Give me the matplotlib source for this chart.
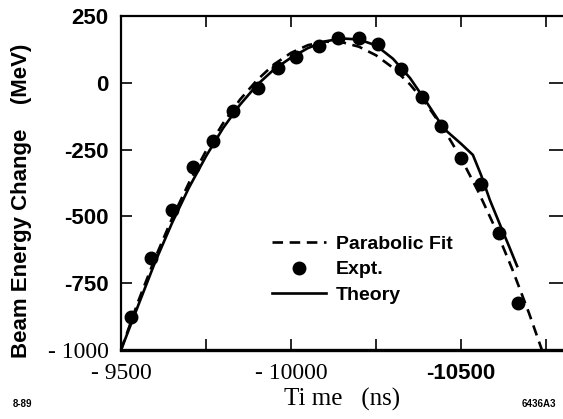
import matplotlib.pyplot as plt

# experimental points (time in ns, energy change in MeV)
expt_t = [-9529, -9588, -9650, -9712, -9771, -9829, -9903, -9962, -10015, -10082,
          -10138, -10200, -10256, -10324, -10385, -10441, -10500, -10559, -10612, -10668]
expt_e = [-876, -656, -476, -315, -218, -106, -19, 55, 97, 138,
          168, 168, 146, 52, -53, -161, -281, -379, -562, -824]

# parabolic fit
fit_t = [-9500, -9550, -9600, -9650, -9700, -9750, -9800, -9850, -9900, -9950,
         -10000, -10050, -10100, -10150, -10200, -10250, -10300, -10350, -10400,
         -10450, -10500, -10550, -10600, -10650, -10700, -10738]
fit_e = [-1000, -820, -657, -508, -374, -255, -152, -63, 10, 69,
         112, 141, 154, 152, 135, 103, 56, -6, -83,
         -175, -282, -405, -542, -695, -862, -1000]

# theory (solid curve)
theory_t = [-9500, -9550, -9600, -9650, -9700, -9750, -9800, -9850, -9900, -9950,
            -10000, -10050, -10100, -10150, -10200, -10250, -10300, -10350, -10400,
            -10450, -10500, -10535, -10559, -10585, -10615, -10641, -10665]
theory_e = [-1000, -835, -672, -525, -392, -275, -170, -82, -8, 50,
            94, 130, 155, 166, 162, 140, 90, 18, -75,
            -172, -228, -270, -345, -439, -532, -611, -686]

y_ticks = [250, 0, -250, -500, -750, -1000]
y_labels = ["250", "0", "-250", "-500", "-750", "- 1000"]
x_ticks = [-9500, -9750, -10000, -10250, -10500, -10750]
x_labels = ["- 9500", "", "- 10000", "", "-10500", ""]

sans = "Liberation Sans"
serif = "Liberation Serif"

fig = plt.figure(figsize=(5.63, 4.19), dpi=100)
ax = fig.add_axes([121 / 563, 1 - 350 / 419, 1 - 121 / 563, (350 - 16) / 419])

ax.plot(fit_t, fit_e, color="black", lw=1.9, dashes=(4, 2.5), label="Parabolic Fit")
ax.plot(expt_t, expt_e, "o", color="black", ms=9, label="Expt.")
ax.plot(theory_t, theory_e, color="black", lw=1.9, label="Theory")

ax.set_xlim(-9500, -10800)
ax.set_ylim(-1000, 250)

ax.spines["right"].set_visible(False)
ax.spines["left"].set_linewidth(1.6)
ax.spines["top"].set_linewidth(1.6)
ax.spines["bottom"].set_linewidth(2.4)

ax.set_yticks(y_ticks)
ax.set_yticklabels(y_labels)
ax.set_xticks(x_ticks)
ax.set_xticklabels(x_labels)
ax.tick_params(axis="both", direction="in", length=8, width=1.2, top=True, right=True)
ax.tick_params(axis="y", which="both", right=True, pad=9)
ax.tick_params(axis="x", pad=9)
for t in ax.yaxis.get_major_ticks():
    t.tick2line.set_markersize(10)

for lab in ax.get_yticklabels():
    if lab.get_text().startswith("- "):
        lab.set_fontfamily(serif)
        lab.set_fontsize(17)
    else:
        lab.set_fontfamily(sans)
        lab.set_fontweight("bold")
        lab.set_fontsize(16)
for lab in ax.get_xticklabels():
    if lab.get_text().startswith("- "):
        lab.set_fontfamily(serif)
        lab.set_fontsize(17)
    else:
        lab.set_fontfamily(sans)
        lab.set_fontweight("bold")
        lab.set_fontsize(16)

ax.set_xlabel("Ti me   (ns)", family=serif, fontsize=18, labelpad=3)
fig.text(22 / 563, 1 - 201 / 419, "Beam Energy Change    (MeV)", family=sans,
         fontweight="bold", fontsize=16, rotation=90, ha="center", va="center")

leg = ax.legend(loc="upper left", bbox_to_anchor=(272 / 563, 1 - 235 / 419),
                bbox_transform=fig.transFigure, frameon=False, borderpad=0,
                borderaxespad=0, handlelength=2.8, handletextpad=0.5,
                labelspacing=0.42, prop={"family": sans, "weight": "bold", "size": 14})

fig.text(13 / 563, 1 - 404 / 419, "8-89", family=sans, fontweight="bold",
         fontsize=7, va="center")
fig.text(522 / 563, 1 - 404 / 419, "6436A3", family=sans, fontweight="bold",
         fontsize=7, va="center")

fig.savefig("out.png", dpi=100)
plt.close(fig)
